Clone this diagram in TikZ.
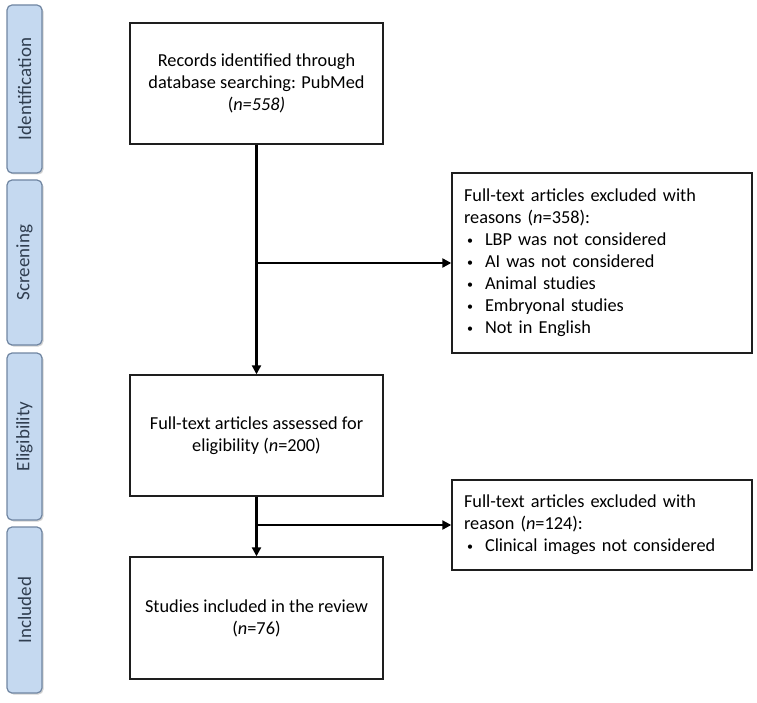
\documentclass[tikz,border=0pt]{standalone}
\usepackage{fontspec}
\setmainfont{Carlito}
\usetikzlibrary{arrows.meta,shadows}
\definecolor{tabfill}{RGB}{197,217,240}
\definecolor{tabdraw}{RGB}{112,134,162}
\definecolor{tabtext}{RGB}{48,62,80}
\definecolor{boxdraw}{RGB}{30,30,30}
\tikzset{
  tab/.style={draw=tabdraw, line width=1.2pt, fill=tabfill, rounded corners=5pt,
    minimum width=35pt, drop shadow={shadow xshift=1.5pt, shadow yshift=-1.5pt, opacity=0.35},
    inner sep=0pt},
  tablabel/.style={text=tabtext, rotate=90, font=\fontsize{19}{22}\selectfont},
  flowbox/.style={draw=boxdraw, line width=1.4pt, fill=white, align=center,
    font=\fontsize{18.3}{22}\selectfont, inner sep=0pt},
  sidebox/.style={draw=boxdraw, line width=1.4pt, fill=white, align=left,
    font=\fontsize{18.3}{22}\selectfont, inner sep=0pt},
  flow/.style={line width=2.2pt, -{Triangle[length=9pt,width=9pt]}},
}
\newcommand{\bul}{\makebox[21pt][l]{\hspace{3pt}\raisebox{1pt}{\fontsize{12}{12}\selectfont•}}}
\begin{document}
\begin{tikzpicture}[x=1pt,y=-1pt]
\useasboundingbox (0,0) rectangle (757,703);
% side tabs
\node[tab, minimum height=168pt] (t1) at (24.5,89) {};
\node[tablabel] (l1) at (t1.center) {Identification};
\node[tab, minimum height=165pt] (t2) at (24.5,262.5) {};
\node[tablabel] (l2) at (t2.center) {Screening};
\node[tab, minimum height=167pt] (t3) at (24.5,436.5) {};
\node[tablabel] (l3) at (t3.center) {Eligibility};
\node[tab, minimum height=166pt] (t4) at (24.5,610) {};
\node[tablabel] (l4) at (t4.center) {Included};
% main boxes
\node[flowbox, minimum width=253pt, minimum height=121pt] (b1) at (256.5,83.5)
  {Records identified through\\database searching: PubMed\\(\textit{n=558)}};
\node[flowbox, minimum width=253pt, minimum height=121pt] (b2) at (256.5,435.5)
  {Full-text articles assessed for\\eligibility (\textit{n}=200)};
\node[flowbox, minimum width=253pt, minimum height=122pt] (b5) at (256.5,618)
  {Studies included in the review\\(\textit{n}=76)};
% side boxes
\node[sidebox, minimum width=300pt, minimum height=180pt, text width=276pt] (b3) at (602,263)
  {Full-text articles excluded with\\reasons (\textit{n}=358):\\
   \bul LBP was not considered\\
   \bul AI was not considered\\
   \bul Animal studies\\
   \bul Embryonal studies\\
   \bul Not in English};
\node[sidebox, minimum width=300pt, minimum height=90pt, text width=276pt] (b4) at (602,525)
  {Full-text articles excluded with\\reason (\textit{n}=124):\\
   \bul Clinical images not considered};
% connectors
\coordinate (j1) at (b1.south |- b3.west);
\coordinate (j2) at (b2.south |- b4.west);
\draw[flow] (b1.south) -- (b2.north);
\draw[flow] (j1) -- (b3.west);
\draw[flow] (b2.south) -- (b5.north);
\draw[flow] (j2) -- (b4.west);
\end{tikzpicture}
\end{document}
